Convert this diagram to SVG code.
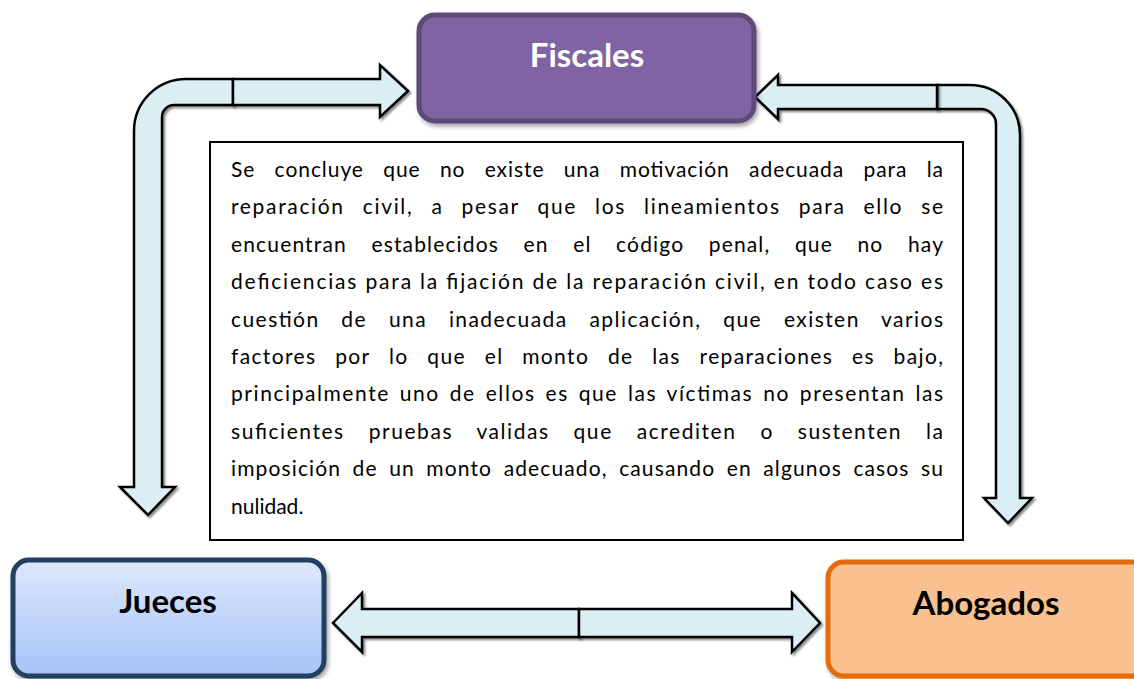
<svg xmlns="http://www.w3.org/2000/svg" width="1134" height="679" viewBox="0 0 1134 679">
<defs>
<linearGradient id="gJ" x1="0" y1="0" x2="0" y2="1">
<stop offset="0" stop-color="#DDE8FB"/>
<stop offset="1" stop-color="#A6C3F8"/>
</linearGradient>
<filter id="sh" x="-10%" y="-10%" width="130%" height="130%">
<feDropShadow dx="2" dy="2" stdDeviation="1.2" flood-color="#000" flood-opacity="0.45"/>
</filter>
<filter id="sh2" x="-10%" y="-10%" width="130%" height="130%">
<feDropShadow dx="2" dy="3" stdDeviation="2" flood-color="#000" flood-opacity="0.35"/>
</filter>
</defs>
<style>
.arr{fill:#DAEEF3;stroke:#000;stroke-width:2.5;stroke-linejoin:miter;filter:url(#sh)}
.title{font-family:Lato,"Liberation Sans",sans-serif;font-weight:bold;font-size:33px;text-anchor:middle}
.body{font-family:Lato,"Liberation Sans",sans-serif;font-size:21px;fill:#000}
.box{stroke-width:5;filter:url(#sh2)}
</style>
<rect width="1134" height="679" fill="#fff"/>

<g id="connectors">
<path class="arr" d="M148,515 L175,487 L162,487 L162,117 A12,12 0 0 1 174,105 L233,105 L233,79 L186,79 A52,52 0 0 0 134,131 L134,487 L120,487 Z"/>
<path class="arr" d="M233,79 L380,79 L380,65 L408,91 L380,117 L380,105 L233,105 Z"/>
<path class="arr" d="M937,85 L970,85 A50,50 0 0 1 1020,135 L1020,498 L1032,498 L1008,523 L984,498 L996,498 L996,124 A15,15 0 0 0 981,109 L937,109 Z"/>
<path class="arr" d="M937,85 L778,85 L778,75 L755,97 L778,119 L778,109 L937,109 Z"/>
<path class="arr" d="M579,609 L362,609 L362,593 L333,623 L362,652 L362,637 L579,637 Z"/>
<path class="arr" d="M579,609 L792,609 L792,593 L820,623 L792,652 L792,637 L579,637 Z"/>
</g>

<g id="fiscales">
<rect class="box" x="419" y="15" width="335" height="106" rx="16" fill="#8064A2" stroke="#5F497A"/>
<text class="title" x="587" y="67" fill="#fff">Fiscales</text>
</g>

<g id="jueces">
<rect class="box" x="13" y="560" width="311" height="116" rx="16" fill="url(#gJ)" stroke="#243F60"/>
<text class="title" x="168" y="613" fill="#000">Jueces</text>
</g>

<g id="abogados">
<rect class="box" x="828" y="562" width="320" height="114" rx="16" fill="#FAC08F" stroke="#E46C0A"/>
<text class="title" x="986" y="615" fill="#000">Abogados</text>
</g>

<g id="conclusion">
<rect x="210" y="142" width="753" height="398" fill="#fff" stroke="#000" stroke-width="2"/>
<g class="body">
<text x="231" y="177" textLength="712" lengthAdjust="spacing" word-spacing="13">Se concluye que no existe una motivación adecuada para la</text>
<text x="231" y="214.4" textLength="712" lengthAdjust="spacing" word-spacing="11">reparación civil, a pesar que los lineamientos para ello se</text>
<text x="231" y="251.8" textLength="712" lengthAdjust="spacing" word-spacing="18">encuentran establecidos en el código penal, que no hay</text>
<text x="231" y="289.2" textLength="712" lengthAdjust="spacing">deficiencias para la fijación de la reparación civil, en todo caso es</text>
<text x="231" y="326.6" textLength="712" lengthAdjust="spacing" word-spacing="15">cuestión de una inadecuada aplicación, que existen varios</text>
<text x="231" y="364" textLength="712" lengthAdjust="spacing" word-spacing="12">factores por lo que el monto de las reparaciones es bajo,</text>
<text x="231" y="401.4" textLength="712" lengthAdjust="spacing" word-spacing="3">principalmente uno de ellos es que las víctimas no presentan las</text>
<text x="231" y="438.8" textLength="712" lengthAdjust="spacing" word-spacing="17">suficientes pruebas validas que acrediten o sustenten la</text>
<text x="231" y="476.2" textLength="712" lengthAdjust="spacing" word-spacing="5">imposición de un monto adecuado, causando en algunos casos su</text>
<text x="231" y="513.6">nulidad.</text>
</g>
</g>
</svg>
